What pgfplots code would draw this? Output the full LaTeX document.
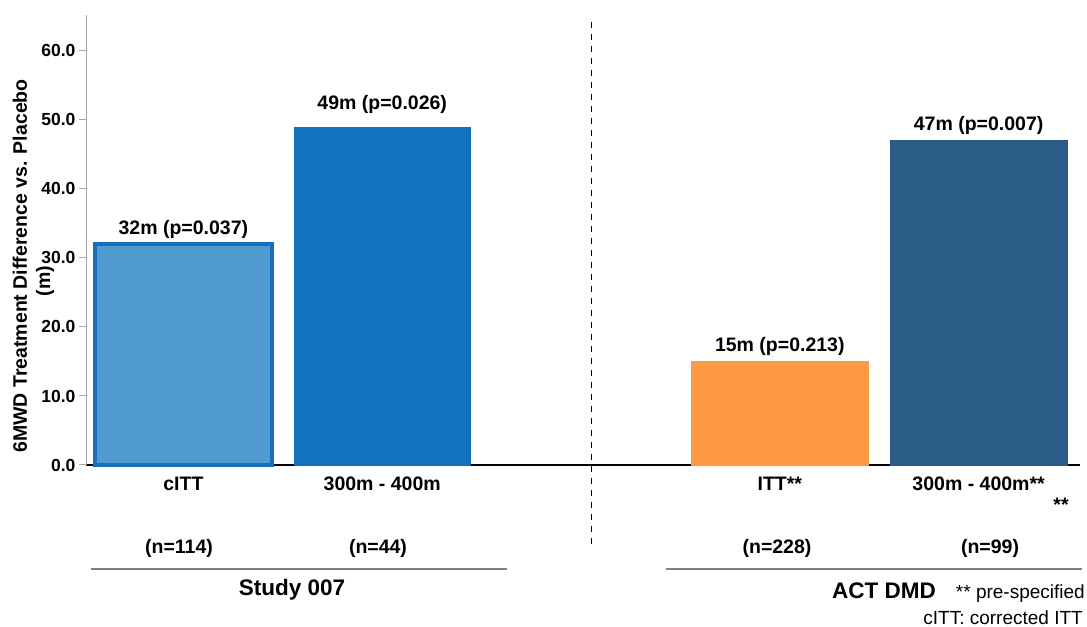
\documentclass[border=0pt]{standalone}
\usepackage{pgfplots}
\pgfplotsset{compat=1.18}
\usepackage{fontspec}
\setmainfont{Liberation Sans}

\definecolor{cittfill}{HTML}{4F9BD0}
\definecolor{cittedge}{HTML}{1570BD}
\definecolor{studyblue}{HTML}{1272BE}
\definecolor{ittorange}{HTML}{FD9A43}
\definecolor{actnavy}{HTML}{2A5C87}
\definecolor{axisgray}{HTML}{A6A6A6}
\definecolor{rulegray}{HTML}{808080}

\newcommand\lbl{\fontsize{19.5bp}{23bp}\selectfont\bfseries}
\newcommand\grp{\fontsize{22.5bp}{26bp}\selectfont\bfseries}
\newcommand\note{\fontsize{19bp}{23bp}\selectfont}

\begin{document}
\begin{tikzpicture}
\begin{axis}[
  at={(86bp,162bp)}, anchor=south west,
  scale only axis, width=994bp, height=450bp,
  xmin=-0.49, xmax=4.51, ymin=0, ymax=65.2,
  axis lines=left,
  axis line style={-},
  x axis line style={black, line width=1.2bp},
  y axis line style={axisgray, line width=1bp},
  tick align=outside,
  major tick length=7bp,
  ytick={0,10,...,60},
  y tick style={axisgray, line width=1bp},
  y tick label style={font=\fontsize{17.5bp}{20bp}\selectfont\bfseries,
    /pgf/number format/fixed, /pgf/number format/fixed zerofill,
    /pgf/number format/precision=1, /pgf/number format/assume math mode=true},
  xtick={0,1,3,4},
  xticklabels={cITT, 300m - 400m, ITT**, 300m - 400m**},
  x tick style={draw=none},
  x tick label style={font=\lbl, anchor=base, yshift=-19bp},
  clip=false,
]
% Study 007
\addplot[ybar, bar width=0.89, bar shift=0pt, fill=cittfill, draw=cittedge, line width=3.5bp]
  coordinates {(0,32)};
\addplot[ybar, bar width=0.89, bar shift=0pt, fill=studyblue, draw=studyblue]
  coordinates {(1,49)};
% ACT DMD
\addplot[ybar, bar width=0.89, bar shift=0pt, fill=ittorange, draw=ittorange]
  coordinates {(3,15)};
\addplot[ybar, bar width=0.89, bar shift=0pt, fill=actnavy, draw=actnavy]
  coordinates {(4,47)};

% value labels
\node[anchor=base, font=\lbl, yshift=10bp] at (axis cs:0,32) {32m (p=0.037)};
\node[anchor=base, font=\lbl, yshift=17bp] at (axis cs:1,49) {49m (p=0.026)};
\node[anchor=base, font=\lbl, yshift=10bp] at (axis cs:3,15) {15m (p=0.213)};
\node[anchor=base, font=\lbl, yshift=10bp] at (axis cs:4,47) {47m (p=0.007)};
\end{axis}

% y axis title
\node[rotate=90, font=\lbl] at (20bp,361bp) {6MWD Treatment Difference vs. Placebo};
\node[rotate=90, font=\lbl] at (45bp,346bp) {(m)};

% separator between the two studies
\draw[black, line width=1bp, dash pattern=on 6bp off 6bp] (591bp,605bp) -- (591bp,82bp);

% sample sizes
\node[font=\lbl] at (179bp,79bp) {(n=114)};
\node[font=\lbl] at (378bp,79bp) {(n=44)};
\node[font=\lbl] at (777bp,79bp) {(n=228)};
\node[font=\lbl] at (990bp,79bp) {(n=99)};
\node[font=\lbl] at (1061bp,122bp) {**};

% study brackets
\draw[rulegray, line width=1.5bp] (91bp,58bp) -- (507bp,58bp);
\draw[rulegray, line width=1.5bp] (666bp,58bp) -- (1082bp,58bp);
\node[font=\grp] at (292bp,37bp) {Study 007};
\node[font=\grp] at (884bp,36bp) {ACT DMD};

% footnotes
\node[font=\note, anchor=east, inner sep=0pt] at (1085bp,33bp) {** pre-specified};
\node[font=\note, anchor=east, inner sep=0pt] at (1083bp,9bp) {cITT: corrected ITT};

\pgfresetboundingbox
\useasboundingbox (0,0) rectangle (1087bp,627bp);
\end{tikzpicture}
\end{document}
